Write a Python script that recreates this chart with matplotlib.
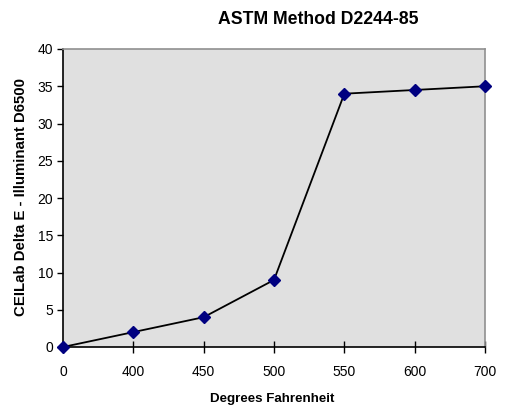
import matplotlib
matplotlib.use("Agg")
import matplotlib.pyplot as plt

categories = ["0", "400", "450", "500", "550", "600", "700"]
values = [0, 2, 4, 9, 34, 34.5, 35]
y_ticks = [0, 5, 10, 15, 20, 25, 30, 35, 40]

plt.rcParams['font.family'] = ['Liberation Sans', 'DejaVu Sans']

W, H = 505, 408
fig = plt.figure(figsize=(W / 100, H / 100), dpi=100)
L, R, T, B = 63, 485, 49, 347
ax = fig.add_axes([L / W, 1 - B / H, (R - L) / W, (B - T) / H])
ax.set_facecolor('#e0e0e0')

x = list(range(len(categories)))
ax.plot(x, values, color='black', lw=1.3, marker='D', markersize=6,
        markerfacecolor='#000080', markeredgecolor='#000080', zorder=5, clip_on=False)

ax.set_xlim(0, len(categories) - 1)
ax.set_ylim(0, 40)
ax.set_xticks(x)
ax.set_xticklabels(categories, fontsize=10)
ax.set_yticks(y_ticks)
ax.set_yticklabels([str(v) for v in y_ticks], fontsize=10)
ax.tick_params(axis='x', direction='inout', length=8, width=1, pad=9)
ax.tick_params(axis='y', direction='out', length=4, width=1, pad=3)

for s in ['top', 'right']:
    ax.spines[s].set_color('#909090')
    ax.spines[s].set_linewidth(1.2)
for s in ['left', 'bottom']:
    ax.spines[s].set_color('black')
    ax.spines[s].set_linewidth(1.2)

fig.text(318 / W, 1 - 19 / H, "ASTM Method D2244-85", ha='center', va='center',
         fontsize=12.7, fontweight='bold')
fig.text(272 / W, 1 - 399 / H, "Degrees Fahrenheit", ha='center', va='center',
         fontsize=9.6, fontweight='bold')
fig.text(21 / W, 1 - 197.5 / H, "CEILab Delta E - Illuminant D6500", ha='center', va='center',
         rotation=90, fontsize=10.8, fontweight='bold')

fig.savefig("out.png", dpi=100)
